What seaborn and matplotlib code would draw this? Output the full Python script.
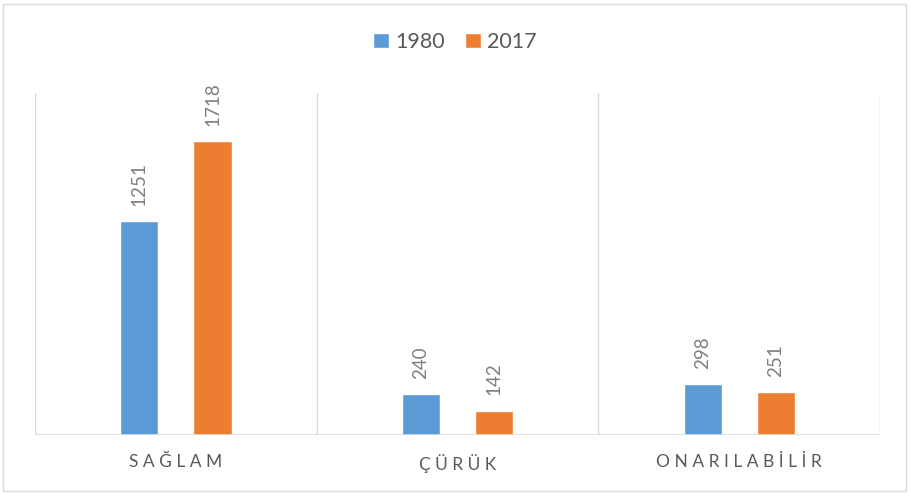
import pandas as pd
import matplotlib.pyplot as plt
import seaborn as sns
from matplotlib.patches import Rectangle

plt.switch_backend('Agg')

# Chart data
categories = ["SAĞLAM", "ÇÜRÜK", "ONARILABİLİR"]
years = ["1980", "2017"]
values_1980 = [1251, 240, 298]
values_2017 = [1718, 142, 251]

colors = {"1980": "#5B9BD5", "2017": "#ED7D31"}

df = pd.DataFrame({
    "kategori": categories * 2,
    "yil": [years[0]] * 3 + [years[1]] * 3,
    "deger": values_1980 + values_2017,
})

sns.set_theme(style="white")
plt.rcParams['font.family'] = ['Lato', 'DejaVu Sans']

fig = plt.figure(figsize=(9.10, 4.94), dpi=100)
ax = fig.add_axes([0.0385, 0.1194, 0.9286, 0.6923])

sns.barplot(data=df, x="kategori", y="deger", hue="yil", order=categories,
            hue_order=years, palette=colors, width=0.52, gap=0.48,
            saturation=1, ax=ax)

# value labels above each bar, rotated like the original
for cont in ax.containers:
    ax.bar_label(cont, rotation=90, padding=11, fontsize=13.5, color="#7F7F7F")

ax.set_ylim(0, 2000)
ax.set_xlim(-0.5, 2.5)
ax.set_yticks([])
ax.set_xlabel("")
ax.set_ylabel("")

# spaced category labels
ax.set_xticks(range(len(categories)))
ax.set_xticklabels([" ".join(c) for c in categories], fontsize=12.5, color="#595959")
ax.tick_params(axis="x", length=0, pad=14)

for s in ax.spines.values():
    s.set_visible(False)

# category separators and baseline
for xv in [-0.5, 0.5, 1.5, 2.5]:
    ax.axvline(xv, color="#D9D9D9", lw=1, zorder=0)
ax.axhline(0, color="#D9D9D9", lw=1.2, zorder=3)

leg = ax.legend(loc="center", ncol=2, frameon=False, fontsize=15.5,
                handlelength=0.75, handleheight=0.75, handletextpad=0.3, columnspacing=0.9)
for t in leg.get_texts():
    t.set_color("#595959")
leg.set_bbox_to_anchor((0.5, 1 - 42 / 494), transform=fig.transFigure)

# thin chart frame
fig.patches.append(Rectangle((3 / 910, 3 / 494), 903 / 910, 487 / 494, transform=fig.transFigure,
                             fill=False, edgecolor="#D9D9D9", lw=1))

fig.savefig("out.png", dpi=100)
plt.close('all')
